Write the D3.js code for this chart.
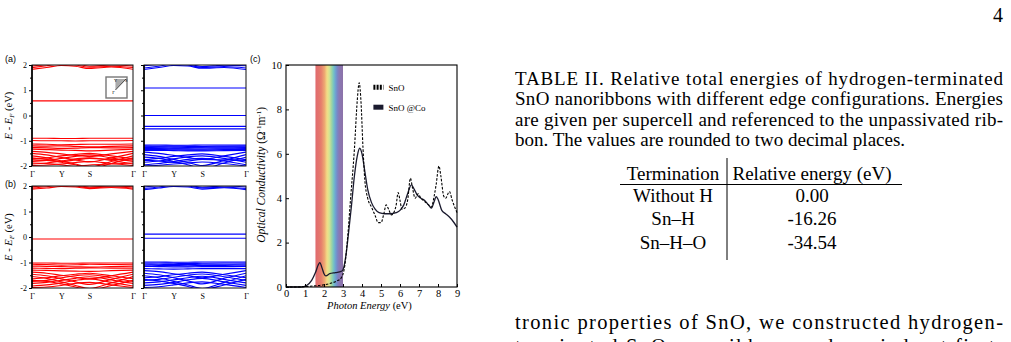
<!DOCTYPE html>
<html>
<head>
<meta charset="utf-8">
<script src="https://cdn.jsdelivr.net/npm/d3@7"></script>
<style>
  body { margin: 0; background: #fff; }
  svg { display: block; }
</style>
</head>
<body>
<div id="page"></div>
<script>
// ---- band structure data (k path G-Y-S-G) ----
const kGrid = [0, 0.145, 0.29, 0.43, 0.57, 0.785, 1];
const kTicks = [0, 0.29, 0.57, 1];
const kLabels = ["Γ", "Y", "S", "Γ"];
const energyTicks = [-2, -1, 0, 1, 2];
const energyMinor = [-1.5, -0.5, 0.5, 1.5];

const bandsRedA = [
  [1.83, 1.9, 1.98, 1.95, 1.86, 1.92, 1.83],
  [1.96, 2.02, 2.1, 2.06, 1.95, 2.0, 1.96],
  [1.9, 1.97, 2.05, 2.0, 1.91, 1.95, 1.9],
  [0.58, 0.58, 0.58, 0.58, 0.58, 0.58, 0.58],
  [-0.9, -0.9, -0.91, -0.91, -0.9, -0.9, -0.9],
  [-0.99, -1.0, -1.0, -1.01, -1.0, -1.0, -0.99],
  [-1.13, -1.14, -1.16, -1.15, -1.14, -1.14, -1.13],
  [-1.2, -1.21, -1.2, -1.22, -1.24, -1.22, -1.2],
  [-1.27, -1.28, -1.3, -1.29, -1.27, -1.28, -1.27],
  [-1.33, -1.35, -1.37, -1.38, -1.4, -1.37, -1.33],
  [-1.42, -1.46, -1.52, -1.58, -1.62, -1.52, -1.42],
  [-1.5, -1.56, -1.66, -1.76, -1.84, -1.68, -1.5],
  [-1.6, -1.68, -1.8, -1.92, -2.05, -1.82, -1.6],
  [-1.72, -1.68, -1.6, -1.54, -1.5, -1.6, -1.72],
  [-1.82, -1.78, -1.7, -1.62, -1.56, -1.68, -1.82],
  [-1.68, -1.74, -1.85, -1.95, -2.1, -1.9, -1.68],
  [-1.92, -1.88, -1.8, -1.72, -1.68, -1.78, -1.92],
  [-1.98, -1.96, -1.92, -1.86, -1.82, -1.9, -1.98],
  [-1.76, -1.78, -1.82, -1.76, -1.7, -1.74, -1.76],
  [-1.88, -1.9, -1.95, -2.02, -1.96, -1.92, -1.88]
];

const bandsBlueA = [
  [1.82, 1.9, 1.98, 1.96, 1.87, 1.9, 1.82],
  [1.97, 2.03, 2.1, 2.05, 1.94, 1.99, 1.97],
  [1.88, 1.95, 2.04, 2.0, 1.9, 1.94, 1.88],
  [1.09, 1.09, 1.09, 1.09, 1.09, 1.09, 1.09],
  [0.0, 0.0, 0.0, 0.0, 0.0, 0.0, 0.0],
  [-0.43, -0.43, -0.43, -0.43, -0.43, -0.43, -0.43],
  [-0.53, -0.53, -0.53, -0.53, -0.53, -0.53, -0.53],
  [-1.17, -1.17, -1.18, -1.18, -1.17, -1.17, -1.17],
  [-1.2, -1.21, -1.21, -1.22, -1.22, -1.21, -1.2],
  [-1.24, -1.24, -1.25, -1.26, -1.25, -1.24, -1.24],
  [-1.27, -1.28, -1.29, -1.29, -1.28, -1.28, -1.27],
  [-1.31, -1.31, -1.32, -1.33, -1.33, -1.32, -1.31],
  [-1.34, -1.35, -1.36, -1.37, -1.37, -1.35, -1.34],
  [-1.38, -1.38, -1.39, -1.4, -1.4, -1.39, -1.38],
  [-1.45, -1.5, -1.58, -1.66, -1.74, -1.6, -1.45],
  [-1.55, -1.62, -1.74, -1.86, -1.98, -1.78, -1.55],
  [-1.65, -1.7, -1.82, -1.95, -2.1, -1.88, -1.65],
  [-1.75, -1.7, -1.62, -1.56, -1.52, -1.62, -1.75],
  [-1.85, -1.8, -1.72, -1.64, -1.6, -1.7, -1.85],
  [-1.95, -1.9, -1.82, -1.74, -1.7, -1.8, -1.95],
  [-2.0, -1.97, -1.92, -1.88, -1.84, -1.9, -2.0],
  [-1.78, -1.8, -1.86, -1.8, -1.74, -1.76, -1.78]
];

const bandsRedB = [
  [1.88, 1.92, 1.98, 1.96, 1.9, 1.94, 1.88],
  [1.97, 2.02, 2.08, 2.04, 1.96, 2.0, 1.97],
  [1.92, 1.97, 2.04, 2.0, 1.93, 1.96, 1.92],
  [-0.08, -0.08, -0.08, -0.08, -0.08, -0.08, -0.08],
  [-1.02, -1.02, -1.03, -1.03, -1.02, -1.02, -1.02],
  [-1.07, -1.08, -1.1, -1.09, -1.07, -1.08, -1.07],
  [-1.14, -1.15, -1.16, -1.17, -1.18, -1.16, -1.14],
  [-1.22, -1.23, -1.24, -1.22, -1.21, -1.22, -1.22],
  [-1.3, -1.31, -1.33, -1.34, -1.35, -1.32, -1.3],
  [-1.38, -1.42, -1.5, -1.58, -1.64, -1.52, -1.38],
  [-1.46, -1.52, -1.64, -1.76, -1.86, -1.66, -1.46],
  [-1.55, -1.62, -1.76, -1.9, -2.02, -1.8, -1.55],
  [-1.64, -1.6, -1.52, -1.46, -1.42, -1.52, -1.64],
  [-1.74, -1.7, -1.6, -1.52, -1.48, -1.6, -1.74],
  [-1.82, -1.78, -1.7, -1.62, -1.56, -1.68, -1.82],
  [-1.92, -1.88, -1.8, -1.7, -1.64, -1.78, -1.92],
  [-1.98, -1.96, -1.9, -1.82, -1.78, -1.88, -1.98],
  [-1.7, -1.74, -1.84, -1.96, -2.08, -1.9, -1.7]
];

const bandsBlueB = [
  [1.86, 1.92, 1.98, 1.96, 1.88, 1.93, 1.86],
  [1.96, 2.02, 2.08, 2.04, 1.95, 2.0, 1.96],
  [1.9, 1.96, 2.04, 2.0, 1.92, 1.95, 1.9],
  [0.11, 0.11, 0.11, 0.11, 0.11, 0.11, 0.11],
  [-0.05, -0.05, -0.05, -0.05, -0.05, -0.05, -0.05],
  [-0.98, -0.98, -0.99, -0.99, -0.98, -0.98, -0.98],
  [-1.02, -1.02, -1.03, -1.04, -1.03, -1.02, -1.02],
  [-1.06, -1.07, -1.08, -1.08, -1.07, -1.07, -1.06],
  [-1.1, -1.11, -1.12, -1.13, -1.12, -1.11, -1.1],
  [-1.15, -1.16, -1.17, -1.17, -1.16, -1.16, -1.15],
  [-1.24, -1.25, -1.26, -1.25, -1.24, -1.24, -1.24],
  [-1.32, -1.36, -1.44, -1.52, -1.6, -1.46, -1.32],
  [-1.42, -1.48, -1.6, -1.72, -1.84, -1.62, -1.42],
  [-1.52, -1.6, -1.74, -1.88, -2.02, -1.78, -1.52],
  [-1.6, -1.56, -1.48, -1.42, -1.38, -1.48, -1.6],
  [-1.7, -1.66, -1.58, -1.5, -1.45, -1.56, -1.7],
  [-1.8, -1.76, -1.68, -1.6, -1.54, -1.66, -1.8],
  [-1.9, -1.86, -1.78, -1.68, -1.62, -1.76, -1.9],
  [-1.98, -1.95, -1.88, -1.8, -1.76, -1.86, -1.98],
  [-1.66, -1.72, -1.82, -1.94, -2.06, -1.88, -1.66]
];

// ---- optical conductivity data ----
const energySnO = [0, 0.5, 1.0, 1.5, 2.0, 2.4, 2.7, 2.9, 3.1, 3.25, 3.4, 3.6, 3.75, 3.85, 3.95, 4.05, 4.15, 4.3, 4.5, 4.7, 4.85, 5.0, 5.15, 5.27, 5.4, 5.55, 5.7, 5.8, 5.9, 6.0, 6.1, 6.25, 6.4, 6.55, 6.65, 6.8, 6.95, 7.1, 7.3, 7.5, 7.65, 7.8, 7.9, 8.05, 8.15, 8.3, 8.4, 8.6, 8.75, 9.0];
const sigmaSnO = [0, 0, 0.02, 0.05, 0.1, 0.18, 0.28, 0.4, 1.0, 2.3, 4.0, 6.2, 8.4, 9.2, 8.3, 6.3, 4.8, 4.0, 3.6, 3.2, 2.9, 2.9, 3.3, 3.7, 3.5, 3.25, 3.4, 3.7, 4.25, 3.9, 3.5, 3.55, 3.9, 4.9, 4.5, 4.0, 4.2, 4.0, 3.85, 3.7, 3.6, 4.1, 4.6, 5.45, 5.0, 4.1, 4.0, 4.3, 3.9, 3.35];

const energySnOCo = [0, 0.8, 1.1, 1.35, 1.55, 1.7, 1.78, 1.9, 2.0, 2.1, 2.3, 2.6, 2.9, 3.0, 3.15, 3.3, 3.45, 3.6, 3.75, 3.88, 4.0, 4.15, 4.3, 4.5, 4.7, 4.9, 5.2, 5.5, 5.8, 6.0, 6.2, 6.4, 6.6, 6.75, 6.9, 7.1, 7.3, 7.5, 7.65, 7.8, 7.9, 8.0, 8.2, 8.4, 8.6, 8.8, 9.0];
const sigmaSnOCo = [0, 0, 0.08, 0.3, 0.65, 1.0, 1.1, 0.85, 0.6, 0.5, 0.6, 0.65, 0.7, 0.78, 1.4, 2.5, 3.7, 5.0, 5.9, 6.25, 6.0, 5.2, 4.4, 3.8, 3.5, 3.35, 3.3, 3.3, 3.35, 3.45, 3.7, 4.2, 4.6, 4.4, 4.15, 4.0, 3.9, 3.7, 3.55, 3.85, 4.07, 3.95, 3.45, 3.3, 3.15, 2.95, 2.7];

const visibleRange = [1.55, 3.0];
const photonTicks = [0, 1, 2, 3, 4, 5, 6, 7, 8, 9];
const sigmaTicks = [0, 2, 4, 6, 8, 10];
const seriesNames = ["SnO", "SnO @Co"];

// ---- table and text ----
const captionLines = [
  "TABLE II. Relative total energies of hydrogen-terminated",
  "SnO nanoribbons with different edge configurations. Energies",
  "are given per supercell and referenced to the unpassivated rib-",
  "bon. The values are rounded to two decimal places."
];
const tableHeader = ["Termination", "Relative energy (eV)"];
const terminations = ["Without H", "Sn–H", "Sn–H–O"];
const relEnergies = ["0.00", "-16.26", "-34.54"];
const bodyLines = [
  "tronic properties of SnO, we constructed hydrogen-",
  "terminated SnO nanoribbons and carried out first-"
];

const svg = d3.select("#page").append("svg")
  .attr("width", 1011)
  .attr("height", 342)
  .style("font-family", "'Liberation Serif', serif");

svg.append("rect").attr("width", 1011).attr("height", 342).attr("fill", "#fff");

// ---------- band panels ----------
const bandPanels = [
  { id: "ar", x: 32, y: 65, w: 101, h: 101, bands: bandsRedA, color: "#ff0000", labels: true, inset: true },
  { id: "ab", x: 144, y: 65, w: 102, h: 101, bands: bandsBlueA, color: "#0000ff", labels: false },
  { id: "br", x: 32, y: 186, w: 101, h: 102, bands: bandsRedB, color: "#ff0000", labels: true },
  { id: "bb", x: 144, y: 186, w: 102, h: 102, bands: bandsBlueB, color: "#0000ff", labels: false }
];

function drawBandPanel(p) {
  const g = svg.append("g").attr("transform", `translate(${p.x},${p.y})`);
  const x = d3.scaleLinear().domain([0, 1]).range([0, p.w]);
  const y = d3.scaleLinear().domain([-2, 2]).range([p.h, 0]);

  g.append("clipPath").attr("id", "clip-" + p.id)
    .append("rect").attr("width", p.w).attr("height", p.h);

  const line = d3.line()
    .x((d, i) => x(kGrid[i]))
    .y(d => y(d))
    .curve(d3.curveMonotoneX);

  g.append("g")
    .attr("clip-path", `url(#clip-${p.id})`)
    .selectAll("path")
    .data(p.bands)
    .join("path")
    .attr("d", line)
    .attr("fill", "none")
    .attr("stroke", p.color)
    .attr("stroke-width", 1.15);

  const minor = g.append("g")
    .call(d3.axisLeft(y).tickValues(energyMinor).tickSize(2).tickFormat(""));
  minor.select(".domain").remove();

  const yAxis = g.append("g")
    .call(d3.axisLeft(y).tickValues(energyTicks).tickSize(3).tickPadding(2)
      .tickFormat(p.labels ? d => String(d) : ""));
  yAxis.select(".domain").remove();
  yAxis.selectAll("text").attr("font-size", 8).attr("font-family", "'Liberation Serif', serif").attr("fill", "#000");

  const xAxis = g.append("g")
    .attr("transform", `translate(0,${p.h})`)
    .call(d3.axisBottom(x).tickValues(kTicks).tickSize(0).tickPadding(5)
      .tickFormat((d, i) => kLabels[i]));
  xAxis.select(".domain").remove();
  xAxis.selectAll("text").attr("font-size", 8).attr("font-family", "'Liberation Serif', serif").attr("fill", "#000");

  g.append("rect")
    .attr("width", p.w).attr("height", p.h)
    .attr("fill", "none").attr("stroke", "#111").attr("stroke-width", 1);
  g.append("line")
    .attr("x1", 0).attr("x2", 0).attr("y1", 0).attr("y2", p.h)
    .attr("stroke", "#000").attr("stroke-width", 1.6);

  if (p.labels) {
    const t = g.append("text")
      .attr("transform", `translate(-20,${p.h / 2}) rotate(-90)`)
      .attr("text-anchor", "middle")
      .attr("font-size", 10.5);
    t.append("tspan").attr("font-style", "italic").text("E");
    t.append("tspan").text(" - ");
    t.append("tspan").attr("font-style", "italic").text("E");
    t.append("tspan").attr("font-style", "italic").attr("font-size", 7).attr("dy", 2).text("F");
    t.append("tspan").attr("dy", -2).text(" (eV)");
  }

  if (p.inset) {
    // small Brillouin zone sketch
    const s = 21, ix = p.w - 27, iy = 12;
    const ig = g.append("g").attr("transform", `translate(${ix},${iy})`);
    ig.append("rect").attr("width", s).attr("height", s)
      .attr("fill", "#fff").attr("stroke", "#777").attr("stroke-width", 1.4);
    ig.append("path")
      .attr("d", `M${s * 0.45},${s * 0.62}L${s * 0.45},${s * 0.1}L${s * 0.95},${s * 0.1}Z`)
      .attr("fill", "#aaa");
    ig.append("line")
      .attr("x1", s * 0.45).attr("y1", s * 0.62).attr("x2", s * 0.95).attr("y2", s * 0.1)
      .attr("stroke", "#222").attr("stroke-width", 0.8);
    ig.append("text").attr("x", s * 0.38).attr("y", s * 0.22).attr("font-size", 4.5).text("Y");
    ig.append("text").attr("x", s * 0.9).attr("y", s * 0.22).attr("font-size", 4.5).text("S");
    ig.append("text").attr("x", s * 0.3).attr("y", s * 0.8).attr("font-size", 4.5).text("Γ");
  }
}

bandPanels.forEach(drawBandPanel);

const panelLabel = (txt, x, y) => svg.append("text")
  .attr("x", x).attr("y", y)
  .attr("font-family", "'Liberation Sans', Arial, sans-serif")
  .attr("font-size", 9).text(txt);
panelLabel("(a)", 5, 62);
panelLabel("(b)", 5, 187);
panelLabel("(c)", 250, 62);

// ---------- optical conductivity panel ----------
const op = { x: 286, y: 65, w: 171, h: 222 };
const og = svg.append("g").attr("transform", `translate(${op.x},${op.y})`);
const ox = d3.scaleLinear().domain([0, 9]).range([0, op.w]);
const oy = d3.scaleLinear().domain([0, 10]).range([op.h, 0]);

const defs = svg.append("defs");
const grad = defs.append("linearGradient").attr("id", "rainbow")
  .attr("x1", "0%").attr("x2", "100%").attr("y1", "0%").attr("y2", "0%");
[
  [0, "#e06a6e"], [0.2, "#e67c6c"], [0.33, "#eea872"], [0.42, "#f3dc86"],
  [0.5, "#d6e492"], [0.58, "#a2d6a2"], [0.65, "#78c6c0"], [0.72, "#6ea6d2"],
  [0.79, "#7888c6"], [0.86, "#8a78b4"], [1, "#8c72a8"]
].forEach(([o, c]) => grad.append("stop").attr("offset", o).attr("stop-color", c));

og.append("rect")
  .attr("x", ox(visibleRange[0]))
  .attr("width", ox(visibleRange[1]) - ox(visibleRange[0]))
  .attr("y", 0).attr("height", op.h)
  .attr("fill", "url(#rainbow)");

const sigmaLine = d3.line()
  .x(d => ox(d[0]))
  .y(d => oy(d[1]))
  .curve(d3.curveMonotoneX);

og.append("path")
  .datum(d3.zip(energySnOCo, sigmaSnOCo))
  .attr("d", sigmaLine)
  .attr("fill", "none")
  .attr("stroke", "#1a1a2e")
  .attr("stroke-width", 1.3);

og.append("path")
  .datum(d3.zip(energySnO, sigmaSnO))
  .attr("d", sigmaLine)
  .attr("fill", "none")
  .attr("stroke", "#000")
  .attr("stroke-width", 1.1)
  .attr("stroke-dasharray", "2.5,1.5");

const oxAxis = og.append("g")
  .attr("transform", `translate(0,${op.h})`)
  .call(d3.axisBottom(ox).tickValues(photonTicks).tickSize(-3).tickPadding(3).tickFormat(d3.format("d")));
oxAxis.select(".domain").remove();
oxAxis.selectAll("text").attr("font-size", 10.5).attr("font-family", "'Liberation Serif', serif").attr("fill", "#000");

const oyAxis = og.append("g")
  .call(d3.axisLeft(oy).tickValues(sigmaTicks).tickSize(-3).tickPadding(4).tickFormat(d3.format("d")));
oyAxis.select(".domain").remove();
oyAxis.selectAll("text").attr("font-size", 10.5).attr("font-family", "'Liberation Serif', serif").attr("fill", "#000");

og.append("rect")
  .attr("width", op.w).attr("height", op.h)
  .attr("fill", "none").attr("stroke", "#000").attr("stroke-width", 1.1);

const xt = og.append("text")
  .attr("x", op.w / 2 - 2).attr("y", op.h + 21.5)
  .attr("text-anchor", "middle").attr("font-size", 10.5);
xt.append("tspan").attr("font-style", "italic").text("Photon Energy");
xt.append("tspan").text(" (eV)");

const yt = og.append("text")
  .attr("transform", `translate(-21,${oy(5.05)}) rotate(-90)`)
  .attr("text-anchor", "middle").attr("font-size", 11.5);
yt.append("tspan").attr("font-style", "italic").text("Optical Conductivity");
yt.append("tspan").text(" (Ω");
yt.append("tspan").attr("font-size", 7).attr("dy", -4).text("-1");
yt.append("tspan").attr("dy", 4).text("m");
yt.append("tspan").attr("font-size", 7).attr("dy", -4).text("-1");
yt.append("tspan").attr("dy", 4).text(")");

// legend
const legend = og.append("g").attr("transform", `translate(${ox(4.6)},${oy(9.0)})`);
seriesNames.forEach((name, i) => {
  const row = legend.append("g").attr("transform", `translate(0,${i * 20})`);
  row.append("line")
    .attr("x1", 0).attr("x2", 10).attr("y1", 0).attr("y2", 0)
    .attr("stroke", i === 0 ? "#000" : "#1a1a2e")
    .attr("stroke-width", 5)
    .attr("stroke-dasharray", i === 0 ? "2,1.2" : null);
  row.append("text").attr("x", 15).attr("y", 3.5).attr("font-size", 9).text(name);
});

// ---------- right column text and table ----------
const textFont = "'Liberation Serif', serif";
const colLeft = 515, colRight = 1003;

svg.append("text")
  .attr("x", colRight).attr("y", 22)
  .attr("text-anchor", "end")
  .attr("font-family", textFont).attr("font-size", 20)
  .text("4");

svg.append("g").selectAll("text")
  .data(captionLines)
  .join("text")
  .attr("x", colLeft)
  .attr("y", (d, i) => 85 + i * 20.3)
  .attr("font-family", textFont)
  .attr("font-size", 19)
  .attr("textLength", (d, i) => i < captionLines.length - 1 ? colRight - colLeft : null)
  .attr("lengthAdjust", "spacing")
  .text(d => d);

const colCenters = [673, 812];
const tbl = svg.append("g").attr("font-family", textFont).attr("font-size", 19).attr("text-anchor", "middle");
tableHeader.forEach((h, i) => {
  tbl.append("text").attr("x", colCenters[i]).attr("y", 180).text(h);
});
tbl.append("line").attr("x1", 620).attr("x2", 902).attr("y1", 184.5).attr("y2", 184.5)
  .attr("stroke", "#000").attr("stroke-width", 1);
tbl.append("line").attr("x1", 727).attr("x2", 727).attr("y1", 158).attr("y2", 260)
  .attr("stroke", "#000").attr("stroke-width", 1);
terminations.forEach((t, i) => {
  tbl.append("text").attr("x", colCenters[0]).attr("y", 202 + i * 23.3).text(t);
  tbl.append("text").attr("x", colCenters[1]).attr("y", 202 + i * 23.3).text(relEnergies[i]);
});

svg.append("g").selectAll("text")
  .data(bodyLines)
  .join("text")
  .attr("x", colLeft)
  .attr("y", (d, i) => 329 + i * 24)
  .attr("font-family", textFont)
  .attr("font-size", 20.5)
  .attr("textLength", colRight - colLeft)
  .attr("lengthAdjust", "spacing")
  .text(d => d);
</script>
</body>
</html>
